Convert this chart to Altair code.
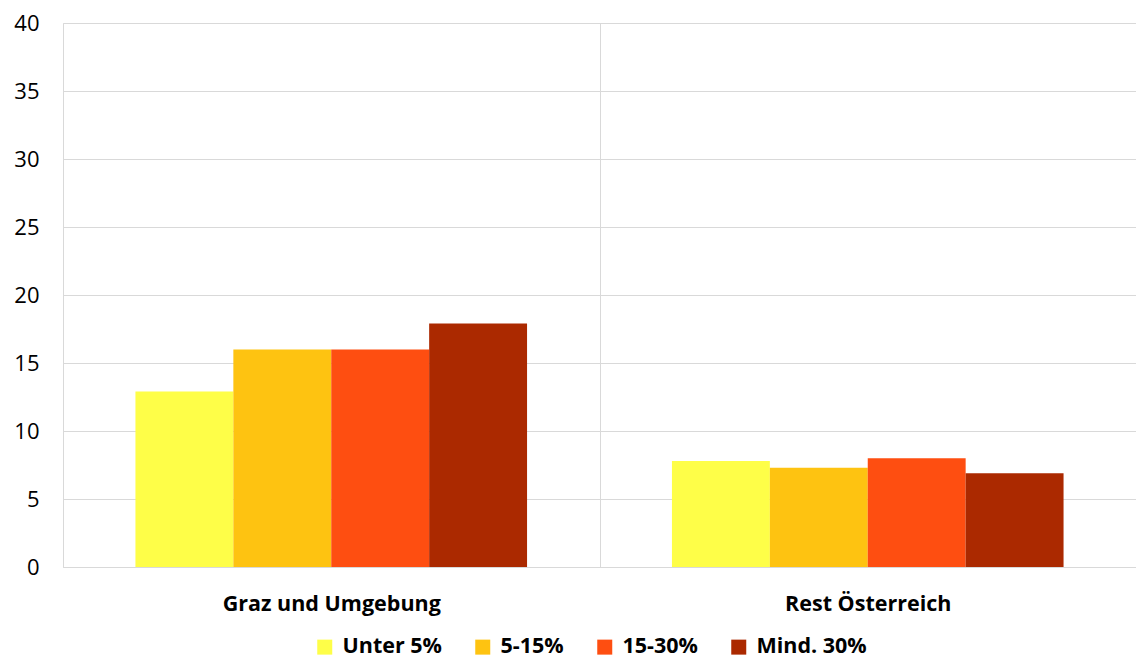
import altair as alt
import pandas as pd

regions = ["Graz und Umgebung", "Rest Österreich"]
groups = ["Unter 5%", "5-15%", "15-30%", "Mind. 30%"]
graz_values = [12.9, 16.0, 16.0, 17.9]
rest_values = [7.8, 7.3, 8.0, 6.9]
colors = ["#FEFE48", "#FEC311", "#FE4E11", "#AB2900"]

rows = []
for g, v in zip(groups, graz_values):
    rows.append({"region": regions[0], "group": g, "value": v})
for g, v in zip(groups, rest_values):
    rows.append({"region": regions[1], "group": g, "value": v})
df = pd.DataFrame(rows)

FONT = "Open Sans"
GRID = "#d9d9d9"

chart = alt.Chart(df).mark_bar().encode(
    x=alt.X("region:N", sort=regions,
            scale=alt.Scale(paddingInner=0, paddingOuter=0),
            axis=alt.Axis(title=None, labelAngle=0, grid=True, tickBand="extent",
                          ticks=False, domainColor=GRID, gridColor=GRID,
                          labelFontSize=21.5, labelFontWeight="bold", labelColor="#000",
                          labelFont=FONT, labelPadding=26, labelLimit=600)),
    xOffset=alt.XOffset("group:N", sort=groups,
                        scale=alt.Scale(paddingInner=0, paddingOuter=0.74)),
    y=alt.Y("value:Q", scale=alt.Scale(domain=[0, 40]),
            axis=alt.Axis(title=None, values=[0, 5, 10, 15, 20, 25, 30, 35, 40],
                          ticks=False, domainColor=GRID, gridColor=GRID,
                          labelFontSize=22, labelColor="#000", labelFont=FONT,
                          labelPadding=24)),
    color=alt.Color("group:N", sort=groups,
                    scale=alt.Scale(domain=groups, range=colors),
                    legend=alt.Legend(title=None, orient="none", legendX=251, legendY=613,
                                      direction="horizontal", symbolType="square",
                                      symbolSize=225, labelFontSize=21.5,
                                      labelFontWeight="bold", labelFont=FONT,
                                      labelColor="#000", columnPadding=30,
                                      labelOffset=7, labelLimit=300)),
).properties(
    width=1073, height=544,
    autosize=alt.AutoSizeParams(type="none"),
    padding={"left": 55, "top": 15, "right": 0, "bottom": 91},
).configure_view(strokeWidth=0)

chart.save("out.html", embed_options={"renderer": "svg", "actions": False})
